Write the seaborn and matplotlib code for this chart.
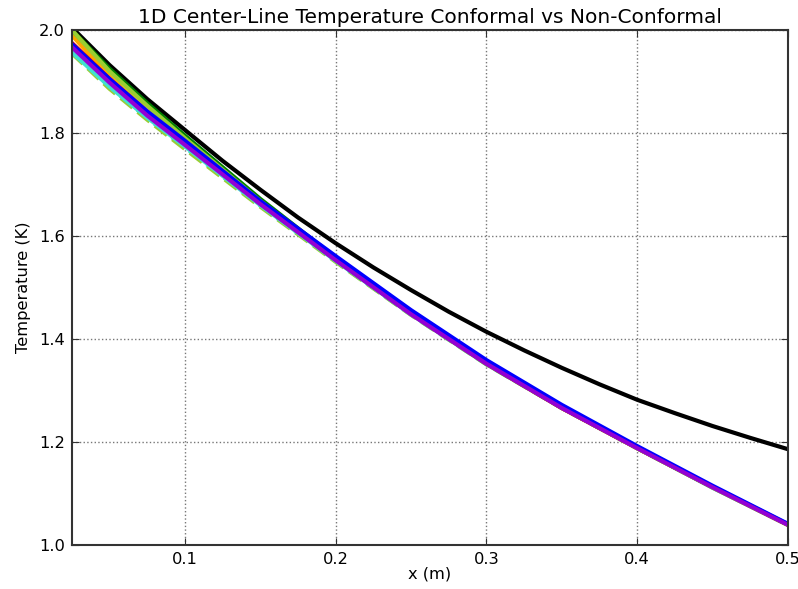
import matplotlib
matplotlib.use("Agg")
import matplotlib.pyplot as plt
import seaborn as sns
import pandas as pd

# center-line positions (m)
x = [0.025, 0.05, 0.075, 0.1, 0.15, 0.2, 0.25, 0.3, 0.35, 0.4, 0.45, 0.5]
x_fine = [0.025, 0.05, 0.075, 0.1, 0.125, 0.15, 0.175, 0.2, 0.225, 0.25, 0.275,
          0.3, 0.325, 0.35, 0.375, 0.4, 0.425, 0.45, 0.475, 0.5]

# temperatures
t_green = [2.00, 1.925, 1.858, 1.795, 1.672, 1.558, 1.452, 1.355, 1.268, 1.189, 1.113, 1.040]
t_yellowgreen = [2.00, 1.920, 1.853, 1.790, 1.668, 1.555, 1.450, 1.353, 1.267, 1.188, 1.112, 1.039]
t_orange = [1.99, 1.910, 1.843, 1.782, 1.664, 1.554, 1.449, 1.352, 1.266, 1.188, 1.112, 1.039]
t_red = [1.975, 1.905, 1.840, 1.780, 1.663, 1.554, 1.449, 1.352, 1.266, 1.188, 1.112, 1.039]
t_cyan = [1.957, 1.890, 1.830, 1.774, 1.660, 1.552, 1.448, 1.351, 1.266, 1.188, 1.111, 1.039]
t_blue = [1.973, 1.905, 1.842, 1.785, 1.668, 1.561, 1.456, 1.359, 1.272, 1.192, 1.115, 1.041]
t_purple = [1.967, 1.898, 1.834, 1.777, 1.662, 1.553, 1.448, 1.352, 1.266, 1.188, 1.112, 1.039]
t_cyan_dash = [1.960, 1.890, 1.829, 1.772, 1.659, 1.551, 1.447, 1.351, 1.266, 1.188, 1.112, 1.039]
t_yg_dash = [1.955, 1.886, 1.826, 1.769, 1.657, 1.550, 1.447, 1.351, 1.266, 1.188, 1.112, 1.039]
t_black = [2.005, 1.932, 1.866, 1.806, 1.746, 1.69, 1.636, 1.586, 1.539, 1.495, 1.453,
           1.414, 1.378, 1.344, 1.312, 1.282, 1.256, 1.231, 1.208, 1.186]

sns.set_style("white", {
    "axes.edgecolor": "#333333",
    "axes.grid": True,
    "grid.color": "#777777",
    "grid.linestyle": ":",
    "xtick.direction": "in",
    "ytick.direction": "in",
    "xtick.top": True,
    "ytick.right": True,
    "xtick.bottom": True,
    "ytick.left": True,
    "text.color": "black",
    "axes.labelcolor": "black",
})
plt.rcParams["font.family"] = ["DejaVu Sans"]

fig = plt.figure(figsize=(7.98, 5.89), dpi=100)
ax = fig.add_axes([0.090, 0.0747, 0.8975, 0.8743])

series = [
    (x, t_cyan_dash, "#40e0d0", "--"),
    (x, t_yg_dash, "#9acd32", "--"),
    (x, t_cyan, "#40e0d0", "-"),
    (x, t_orange, "#ffa500", "-"),
    (x, t_red, "#dd0000", "-"),
    (x_fine, t_black, "black", "-"),
    (x, t_green, "#008000", "-"),
    (x, t_yellowgreen, "#9acd32", "-"),
    (x, t_blue, "#0000ff", "-"),
    (x, t_purple, "#9400d3", "-"),
]
for xs, vals, col, ls in series:
    df = pd.DataFrame({"x": xs, "T": vals})
    sns.lineplot(data=df, x="x", y="T", color=col, linestyle=ls, linewidth=3, ax=ax)

ax.set_xlim(0.025, 0.5)
ax.set_ylim(1.0, 2.0)
ax.set_xticks([0.1, 0.2, 0.3, 0.4, 0.5])
ax.set_yticks([1.0, 1.2, 1.4, 1.6, 1.8, 2.0])
ax.grid(True, linestyle=":", color="#777777", linewidth=1)
ax.tick_params(labelsize=11.7, length=5, width=0.8, colors="#333333", labelcolor="black", pad=5)
for s in ax.spines.values():
    s.set_linewidth(1.5)
ax.set_xlabel("x (m)", fontsize=11.7, labelpad=0)
ax.set_ylabel("Temperature (K)", fontsize=11.7, labelpad=6)
ax.set_title("1D Center-Line Temperature Conformal vs Non-Conformal", fontsize=14.5, pad=5)

fig.savefig("out.png", dpi=100)
